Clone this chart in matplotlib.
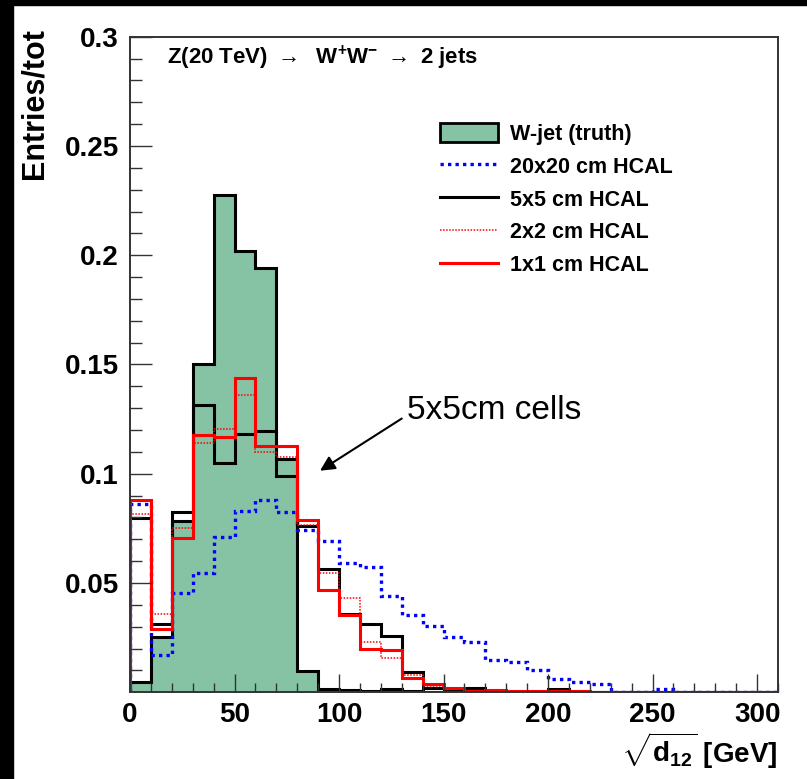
import numpy as np
import matplotlib
matplotlib.use("Agg")
import matplotlib.pyplot as plt
from matplotlib.patches import Patch, Rectangle
from matplotlib.lines import Line2D

plt.rcParams['font.family'] = ['Liberation Sans', 'DejaVu Sans']
plt.rcParams['font.weight'] = 'bold'
plt.rcParams['mathtext.fontset'] = 'custom'
plt.rcParams['mathtext.rm'] = 'Liberation Sans:bold'
plt.rcParams['mathtext.it'] = 'Liberation Sans:bold'
plt.rcParams['mathtext.bf'] = 'Liberation Sans:bold'

# bins of 10 GeV, 0..310
edges = np.arange(0, 320, 10)

truth = [0.0046, 0.0255, 0.0784, 0.1504, 0.2276, 0.2021, 0.1940, 0.1066, 0.0099, 0.0015,
         0.0012, 0.0005, 0.0017, 0.0004, 0, 0, 0, 0, 0, 0,
         0, 0, 0, 0, 0, 0, 0, 0, 0, 0, 0]
hcal20 = [0.0860, 0.0171, 0.0453, 0.0545, 0.0709, 0.0830, 0.0880, 0.0825, 0.0741, 0.0694,
          0.0593, 0.0573, 0.0440, 0.0352, 0.0305, 0.0252, 0.0232, 0.0147, 0.0140, 0.0102,
          0.0060, 0.0047, 0.0038, 0, 0, 0.0014, 0, 0, 0, 0, 0]
hcal5 = [0.0796, 0.0314, 0.0827, 0.1313, 0.1048, 0.1181, 0.1196, 0.0990, 0.0761, 0.0564,
         0.0358, 0.0313, 0.0256, 0.0093, 0.0020, 0.0016, 0.0021, 0.0005, 0.0003, 0.0003,
         0.0015, 0.0003, 0, 0, 0, 0, 0, 0, 0, 0, 0]
hcal2 = [0.0815, 0.0360, 0.0753, 0.1142, 0.1204, 0.1360, 0.1100, 0.1078, 0.0765, 0.0545,
         0.0430, 0.0232, 0.0158, 0.0079, 0.0029, 0.0015, 0.0008, 0.0006, 0.0004, 0.0003,
         0.0003, 0.0002, 0, 0, 0, 0, 0, 0, 0, 0, 0]
hcal1 = [0.0880, 0.0288, 0.0708, 0.1176, 0.1170, 0.1440, 0.1129, 0.1127, 0.0789, 0.0468,
         0.0354, 0.0200, 0.0192, 0.0067, 0.0039, 0.0021, 0.0008, 0.0009, 0.0007, 0.0006,
         0.0005, 0.0004, 0.0003, 0.0002, 0.0002, 0.0001, 0.0001, 0.0001, 0.0001, 0.0001, 0.0001]

labels = ['W-jet (truth)', '20x20 cm HCAL', '5x5 cm HCAL', '2x2 cm HCAL', '1x1 cm HCAL']

green = '#86c2a4'
blue_ls = (0, (1.0, 1.25))
red_ls = (0, (1, 1))

fig = plt.figure(figsize=(8.07, 7.79), dpi=100)
ax = fig.add_axes([130/807, 1-692.3/779, 648/807, 655.6/779])

ax.stairs(truth, edges, fill=True, color=green)
ax.stairs(truth, edges, color='black', lw=2.2)
ax.stairs(hcal20, edges, color='#0000ff', lw=2.4, linestyle=blue_ls)
ax.stairs(hcal5, edges, color='black', lw=2.2)
ax.stairs(hcal2, edges, color='red', lw=1.1, linestyle=red_ls)
ax.stairs(hcal1, edges, color='red', lw=2.2)

ax.set_xlim(0, 310)
ax.set_ylim(0, 0.3)
ax.set_xticks(np.arange(0, 301, 50))
ax.set_xticks(np.arange(0, 311, 10), minor=True)
ax.set_yticks([0.05, 0.1, 0.15, 0.2, 0.25, 0.3])
ax.set_yticklabels(['0.05', '0.1', '0.15', '0.2', '0.25', '0.3'])
ax.set_yticks(np.arange(0.01, 0.3, 0.01), minor=True)
ax.tick_params(axis='both', which='both', direction='in', width=1.0, colors='#333333',
               labelcolor='black', labelsize=20)
ax.tick_params(axis='x', which='major', length=13, pad=7)
ax.tick_params(axis='x', which='minor', length=6.5)
ax.tick_params(axis='y', which='major', length=16, pad=8)
ax.tick_params(axis='y', which='minor', length=8.5)
for lab in ax.get_xticklabels() + ax.get_yticklabels():
    lab.set_fontweight('bold')
for s in ax.spines.values():
    s.set_linewidth(1.4)
    s.set_color('#333333')

ax.text(17.7, 0.2905, r'Z(20 TeV) $\rightarrow$  W$^{+}$W$^{-}$ $\rightarrow$ 2 jets',
        fontsize=16, fontweight='bold', va='center', ha='left')

handles = [Patch(facecolor=green, edgecolor='black', lw=2),
           Line2D([], [], color='#0000ff', lw=2.4, linestyle=blue_ls),
           Line2D([], [], color='black', lw=2.2),
           Line2D([], [], color='red', lw=1.1, linestyle=red_ls),
           Line2D([], [], color='red', lw=2.2)]
leg = ax.legend(handles, labels, loc='upper left', bbox_to_anchor=(440/807, 1-123/779),
                bbox_transform=fig.transFigure, frameon=False, fontsize=15.5,
                handlelength=2.7, handleheight=1.0, handletextpad=0.55, labelspacing=0.5,
                borderaxespad=0, borderpad=0)
for t in leg.get_texts():
    t.set_fontweight('bold')

ax.annotate('5x5cm cells', xy=(90.9, 0.1014), xytext=(132.5, 0.1288),
            fontsize=24, fontweight='normal', va='center', ha='left',
            arrowprops=dict(arrowstyle='-|>', color='black', lw=1.5,
                            mutation_scale=22, shrinkA=0, shrinkB=0,
                            patchA=None, relpos=(-0.03, 0.25)))

fig.text(35/807, 1-28/779, 'Entries/tot', rotation=90, ha='center', va='top',
         fontsize=22, fontweight='bold')
fig.text(777/807, 1-731/779, r'$\sqrt{d_{12}}$ [GeV]', ha='right', va='top',
         fontsize=20, fontweight='bold')

# black border strips of the original screenshot
fig.patches.append(Rectangle((0, 0), 13/807, 1, transform=fig.transFigure,
                             color='black', zorder=10))
fig.patches.append(Rectangle((0, 1-5/779), 1, 5/779, transform=fig.transFigure,
                             color='black', zorder=10))

fig.savefig('out.png', dpi=100)
